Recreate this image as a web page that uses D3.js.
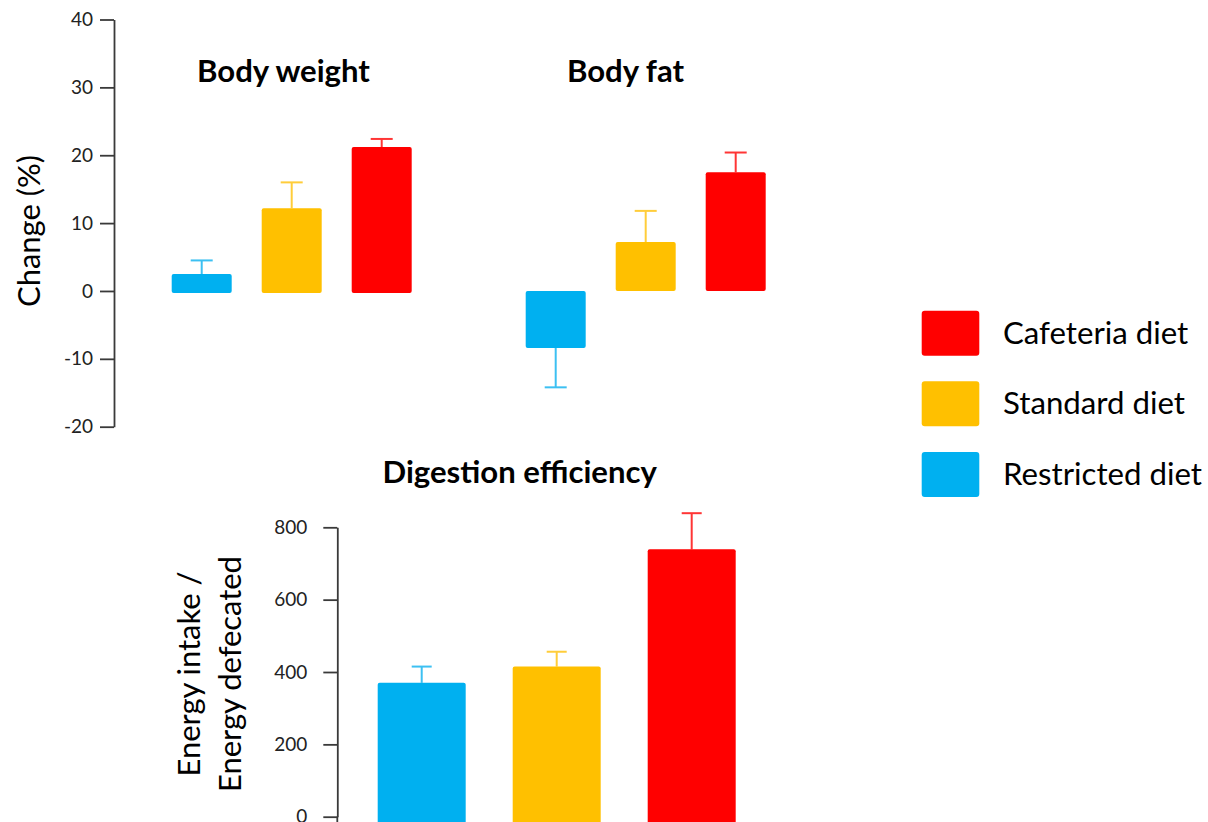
<!DOCTYPE html>
<html>
<head>
<meta charset="utf-8">
<script src="https://cdn.jsdelivr.net/npm/d3@7"></script>
<style>
  html, body { margin: 0; padding: 0; background: #fff; }
  svg { display: block; font-family: Lato, "Open Sans", sans-serif; }
</style>
</head>
<body>
<svg id="chart" width="1208" height="822"></svg>
<script>
// ---- data ----
const diets = ["Restricted diet", "Standard diet", "Cafeteria diet"];
const legendOrder = ["Cafeteria diet", "Standard diet", "Restricted diet"];
const panels = ["Body weight", "Body fat"];
const bodyWeight = [2.5, 12.2, 21.2];
const bodyWeightErr = [4.5, 16.0, 22.4];
const bodyFat = [-8.4, 7.2, 17.5];
const bodyFatErr = [-14.2, 11.8, 20.4];
const digestion = [370, 415, 739];
const digestionErr = [415, 456, 839];
const topTicks = [-20, -10, 0, 10, 20, 30, 40];
const bottomTicks = [0, 200, 400, 600, 800];

const colors = {"Restricted diet": "#00B0F0", "Standard diet": "#FFC000", "Cafeteria diet": "#FF0000"};
const errColors = {"Restricted diet": "#3CC0F2", "Standard diet": "#FFCD3A", "Cafeteria diet": "#FF3535"};

const svg = d3.select("#chart");
const W = 1208, H = 822;

function fitWidth(sel, target) {
  const len = sel.node().getComputedTextLength();
  const fs = parseFloat(sel.attr("font-size"));
  const nfs = fs * target / len;
  sel.attr("font-size", nfs);
  return nfs;
}

// ---- top panel ----
const yTop = d3.scaleLinear().domain([-20, 40]).range([426.7, 19.5]);
const x0 = d3.scaleBand().domain(panels).range([156.7, 780.7]).paddingInner(84 / 354).paddingOuter(0);
const x1 = d3.scaleBand().domain(diets).range([0, x0.bandwidth()]).paddingInner(1 / 3).paddingOuter(1 / 6);

const topAxis = svg.append("g")
  .attr("transform", "translate(114,0)")
  .call(d3.axisLeft(yTop).tickValues(topTicks).tickSize(14).tickSizeOuter(0).tickPadding(7).tickFormat(d => String(d)));
topAxis.selectAll("path, line").attr("stroke", "#3a3a3a").attr("stroke-width", 1.8);
topAxis.selectAll("text").attr("font-size", 19).attr("fill", "#222").attr("font-family", "Lato, sans-serif");

const topData = [
  {panel: "Body weight", vals: bodyWeight, errs: bodyWeightErr},
  {panel: "Body fat", vals: bodyFat, errs: bodyFatErr}
];

topData.forEach(p => {
  const g = svg.append("g").attr("transform", `translate(${x0(p.panel)},0)`);
  diets.forEach((d, i) => {
    const v = p.vals[i], e = p.errs[i];
    const cx = x1(d) + x1.bandwidth() / 2;
    g.append("line")
      .attr("x1", cx).attr("x2", cx)
      .attr("y1", yTop(v)).attr("y2", yTop(e))
      .attr("stroke", errColors[d]).attr("stroke-width", 2);
    g.append("line")
      .attr("x1", cx - 11).attr("x2", cx + 11)
      .attr("y1", yTop(e)).attr("y2", yTop(e))
      .attr("stroke", errColors[d]).attr("stroke-width", 2);
    g.append("rect")
      .attr("x", x1(d)).attr("width", x1.bandwidth())
      .attr("y", Math.min(yTop(v), yTop(0)))
      .attr("height", Math.abs(yTop(v) - yTop(0)) + (p.panel === "Body weight" ? 2 : 0))
      .attr("rx", 2).attr("fill", colors[d]);
  });
});

// titles
const t1 = svg.append("text").attr("x", 283.5).attr("y", 81.5).attr("text-anchor", "middle")
  .attr("font-weight", "bold").attr("font-size", 26).attr("fill", "#000").text("Body weight");
const titleFs = fitWidth(t1, 173);
svg.append("text").attr("x", 625.5).attr("y", 81.5).attr("text-anchor", "middle")
  .attr("font-weight", "bold").attr("font-size", titleFs).attr("fill", "#000").text("Body fat");
svg.append("text").attr("x", 519.7).attr("y", 482.5).attr("text-anchor", "middle")
  .attr("font-weight", "bold").attr("font-size", titleFs).attr("fill", "#000").text("Digestion efficiency");

// y label top
const yl = svg.append("text").attr("transform", "translate(40,231) rotate(-90)")
  .attr("text-anchor", "middle").attr("font-size", 28).attr("fill", "#000").text("Change (%)");
const labFs = fitWidth(yl, 152);

// ---- bottom panel ----
const yBot = d3.scaleLinear().domain([0, 800]).range([816.7, 527.3]);
const xb = d3.scaleBand().domain(diets).range([354.2, 759.2]).paddingInner(47 / 135).paddingOuter(47 / 270);

const botAxis = svg.append("g")
  .attr("transform", "translate(337.3,0)")
  .call(d3.axisLeft(yBot).tickValues(bottomTicks).tickSize(14).tickSizeOuter(0).tickPadding(16).tickFormat(d => String(d)));
botAxis.selectAll("path, line").attr("stroke", "#3a3a3a").attr("stroke-width", 1.8);
botAxis.selectAll("text").attr("font-size", 19).attr("fill", "#222").attr("font-family", "Lato, sans-serif");
botAxis.append("line").attr("x1", 0).attr("x2", 0).attr("y1", yBot(0)).attr("y2", H)
  .attr("stroke", "#3a3a3a").attr("stroke-width", 1.8);

diets.forEach((d, i) => {
  const v = digestion[i], e = digestionErr[i];
  const cx = xb(d) + xb.bandwidth() / 2;
  svg.append("line").attr("x1", cx).attr("x2", cx).attr("y1", yBot(v)).attr("y2", yBot(e))
    .attr("stroke", errColors[d]).attr("stroke-width", 2);
  svg.append("line").attr("x1", cx - 10).attr("x2", cx + 10).attr("y1", yBot(e)).attr("y2", yBot(e))
    .attr("stroke", errColors[d]).attr("stroke-width", 2);
  svg.append("rect").attr("x", xb(d)).attr("width", xb.bandwidth())
    .attr("y", yBot(v)).attr("height", H - yBot(v) + 4)
    .attr("rx", 2).attr("fill", colors[d]);
});

const l1 = svg.append("text").attr("transform", "translate(200,674) rotate(-90)")
  .attr("text-anchor", "middle").attr("font-size", labFs).attr("fill", "#000").text("Energy intake /");
svg.append("text").attr("transform", "translate(241,674) rotate(-90)")
  .attr("text-anchor", "middle").attr("font-size", labFs).attr("fill", "#000").text("Energy defecated");

// ---- legend ----
const lg = svg.append("g");
const legY = d3.scalePoint().domain(legendOrder).range([333.2, 474.5]);
legendOrder.forEach(d => {
  lg.append("rect").attr("x", 921.7).attr("y", legY(d) - 22.5).attr("width", 57.6).attr("height", 45)
    .attr("rx", 3).attr("fill", colors[d]);
});
const lt = lg.append("text").attr("x", 1003).attr("y", legY("Restricted diet") + 10.5)
  .attr("font-size", 28).attr("fill", "#000").text("Restricted diet");
const legFs = fitWidth(lt, 199);
["Cafeteria diet", "Standard diet"].forEach(d => {
  lg.append("text").attr("x", 1003).attr("y", legY(d) + 10.5)
    .attr("font-size", legFs).attr("fill", "#000").text(d);
});
</script>
</body>
</html>
